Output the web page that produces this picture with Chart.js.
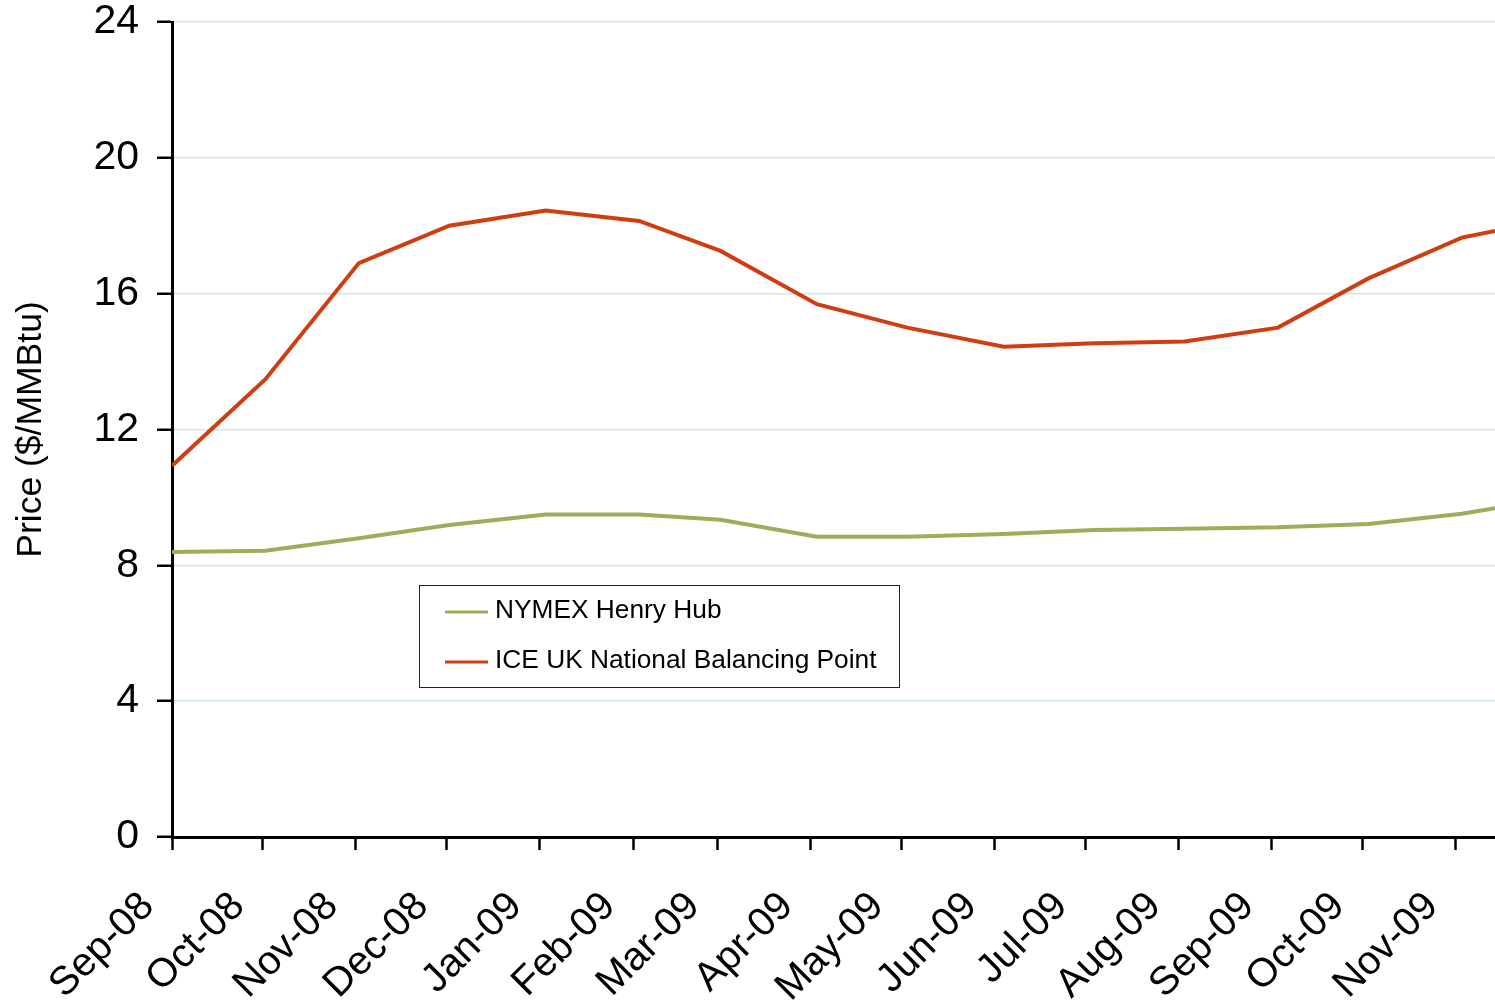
<!DOCTYPE html>
<html>
<head>
<meta charset="utf-8">
<script src="https://cdn.jsdelivr.net/npm/chart.js@4.4.1/dist/chart.umd.min.js"></script>
<style>
  html, body { margin: 0; padding: 0; background: #fff; }
  #wrap { position: relative; width: 1495px; height: 1000px; }
</style>
</head>
<body>
<div id="wrap"><canvas id="canvas"></canvas></div>
<script>
    // days counted from 1 Sep 2008
    const monthDays = [0, 30, 61, 91, 122, 153, 181, 212, 242, 273, 303, 334, 365, 395, 426];
    const monthLabels = ["Sep-08", "Oct-08", "Nov-08", "Dec-08", "Jan-09", "Feb-09", "Mar-09", "Apr-09",
                         "May-09", "Jun-09", "Jul-09", "Aug-09", "Sep-09", "Oct-09", "Nov-09"];

    const pointDays = [0, 31, 62, 92, 124, 155, 182, 214, 244, 276, 306, 336, 367, 397, 428, 439];
    const henryHub = [8.39, 8.43, 8.80, 9.19, 9.50, 9.50, 9.34, 8.84, 8.84, 8.92, 9.04, 9.08, 9.12, 9.22, 9.52, 9.68];
    const nbp = [10.93, 13.48, 16.90, 18.00, 18.45, 18.14, 17.26, 15.69, 15.00, 14.44, 14.54, 14.59, 15.00, 16.45, 17.65, 17.85];

    const FONT = "Arial, 'Liberation Sans', sans-serif";

    const toPoints = (vals) => vals.map((v, i) => ({ x: pointDays[i], y: v }));

    // legend box drawn inside the plot
    const boxLegend = {
      id: "boxLegend",
      afterDraw(chart) {
        const c = chart.ctx;
        const left = 419, top = 585, w = 480, h = 102;
        c.save();
        c.fillStyle = "#fff";
        c.fillRect(left, top, w, h);
        c.strokeStyle = "#222";
        c.lineWidth = 1;
        c.strokeRect(left + 0.5, top + 0.5, w, h);
        c.font = "26.3px " + FONT;
        c.textBaseline = "middle";
        chart.data.datasets.forEach((ds, i) => {
          const y = top + 26 + i * 50;
          c.strokeStyle = ds.borderColor;
          c.lineWidth = 3;
          c.beginPath();
          c.moveTo(left + 26, y + 1);
          c.lineTo(left + 69, y + 1);
          c.stroke();
          c.fillStyle = "#000";
          c.fillText(ds.label, left + 76, y);
        });
        c.restore();
      }
    };

    const chart = new Chart(document.getElementById("canvas"), {
      type: "line",
      data: {
        datasets: [
          { label: "NYMEX Henry Hub", data: toPoints(henryHub), borderColor: "#9bae5a", borderWidth: 4 },
          { label: "ICE UK National Balancing Point", data: toPoints(nbp), borderColor: "#cf3e12", borderWidth: 4 }
        ]
      },
      options: {
        responsive: true,
        maintainAspectRatio: false,
        animation: false,
        layout: { padding: { top: 22, right: 0, left: 0, bottom: 0 } },
        elements: { point: { radius: 0 }, line: { tension: 0 } },
        plugins: { legend: { display: false }, tooltip: { enabled: false } },
        scales: {
          x: {
            type: "linear",
            min: 0,
            max: 439,
            afterFit(scale) {
              scale.height = 163;
              scale.paddingLeft = 0;
              scale.paddingRight = 0;
            },
            afterBuildTicks(scale) { scale.ticks = monthDays.map(v => ({ value: v })); },
            ticks: {
              autoSkip: false,
              minRotation: 45,
              maxRotation: 45,
              padding: 33,
              labelOffset: -24,
              color: "#000",
              font: { family: FONT, size: 40 },
              callback: (v, i) => monthLabels[i]
            },
            grid: { drawOnChartArea: false, tickLength: 13, tickColor: "#000", tickWidth: 2.5 },
            border: { color: "#000", width: 3 }
          },
          y: {
            min: 0,
            max: 24,
            afterFit(scale) {
              scale.width = 172;
              scale.paddingTop = 0;
              scale.paddingBottom = 0;
            },
            ticks: {
              stepSize: 4,
              padding: 18,
              color: "#000",
              font: { family: FONT, size: 41 }
            },
            grid: { color: "#d4e5e7", lineWidth: 1.5, tickColor: "#000", tickLength: 15, tickWidth: 2.5 },
            border: { color: "#000", width: 3 },
            title: {
              display: true,
              text: "Price ($/MMBtu)",
              color: "#000",
              font: { family: FONT, size: 35.5 },
              padding: { top: 10, bottom: 0 }
            }
          }
        }
      },
      plugins: [boxLegend]
    });
</script>
</body>
</html>
